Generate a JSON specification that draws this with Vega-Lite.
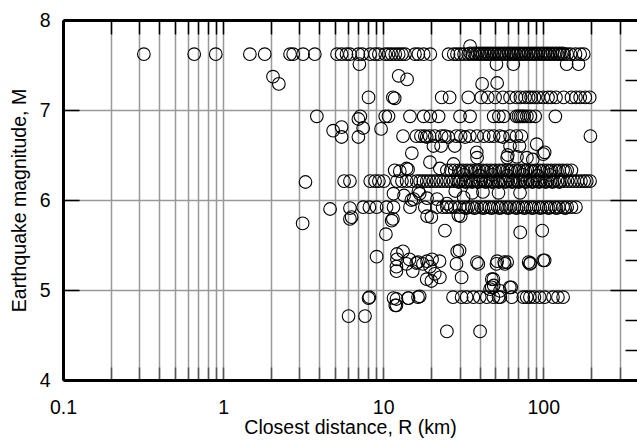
{
  "$schema": "https://vega.github.io/schema/vega-lite/v6.json",
  "width": 574,
  "height": 360,
  "autosize": "none",
  "padding": {"left": 63, "top": 20, "right": 0, "bottom": 60},
  "background": "white",
  "config": {
    "view": {"stroke": null},
    "axis": {"labelFont": "Liberation Sans", "titleFont": "Liberation Sans", "labelColor": "#000", "titleColor": "#000", "titleFontWeight": "normal", "labelFontSize": 19.5, "titleFontSize": 19.5, "labelOverlap": false, "labelFlush": false}
  },
  "layer": [
    {
      "data": {"values": [
        {"R":0.32,"M":7.62},{"R":0.66,"M":7.62},{"R":0.9,"M":7.62},{"R":1.47,"M":7.62},{"R":1.82,"M":7.62},{"R":2.62,"M":7.62},{"R":2.74,"M":7.62},{"R":3.16,"M":7.62},{"R":3.74,"M":7.62},{"R":5.15,"M":7.62},{"R":5.5,"M":7.62},{"R":5.9,"M":7.62},{"R":6.2,"M":7.62},{"R":7.0,"M":7.62},{"R":7.4,"M":7.62},{"R":8.3,"M":7.62},{"R":8.9,"M":7.62},{"R":9.4,"M":7.62},{"R":10.3,"M":7.62},{"R":10.8,"M":7.62},{"R":11.3,"M":7.62},{"R":11.9,"M":7.62},{"R":12.5,"M":7.62},{"R":13.1,"M":7.62},{"R":13.7,"M":7.62},{"R":15.8,"M":7.62},{"R":16.6,"M":7.62},{"R":17.9,"M":7.62},{"R":19.7,"M":7.62},{"R":25.6,"M":7.62},{"R":27.6,"M":7.62},{"R":28.9,"M":7.62},{"R":30.3,"M":7.62},{"R":32,"M":7.62},{"R":34,"M":7.62},{"R":36,"M":7.62},{"R":38,"M":7.62},{"R":40,"M":7.62},{"R":42,"M":7.62},{"R":44,"M":7.62},{"R":46,"M":7.62},{"R":48.5,"M":7.62},{"R":51,"M":7.62},{"R":53.5,"M":7.62},{"R":56,"M":7.62},{"R":59,"M":7.62},{"R":62,"M":7.62},{"R":65,"M":7.62},{"R":68,"M":7.62},{"R":71.5,"M":7.62},{"R":75,"M":7.62},{"R":79,"M":7.62},{"R":83,"M":7.62},{"R":87,"M":7.62},{"R":91,"M":7.62},{"R":96,"M":7.62},{"R":101,"M":7.62},{"R":106,"M":7.62},{"R":111,"M":7.62},{"R":117,"M":7.62},{"R":123,"M":7.62},{"R":129,"M":7.62},{"R":135,"M":7.62},{"R":141,"M":7.62},{"R":148,"M":7.62},{"R":159,"M":7.62},{"R":170,"M":7.62},{"R":179,"M":7.62},
        {"R":35,"M":7.63},{"R":37,"M":7.63},{"R":39,"M":7.63},{"R":41,"M":7.63},{"R":43,"M":7.63},{"R":45,"M":7.63},{"R":47.2,"M":7.63},{"R":49.7,"M":7.63},{"R":52.2,"M":7.63},{"R":54.7,"M":7.63},{"R":57.5,"M":7.63},{"R":60.5,"M":7.63},{"R":63.5,"M":7.63},{"R":66.5,"M":7.63},{"R":69.7,"M":7.63},{"R":73.2,"M":7.63},{"R":77,"M":7.63},{"R":81,"M":7.63},{"R":85,"M":7.63},{"R":89,"M":7.63},{"R":93.5,"M":7.63},{"R":98.5,"M":7.63},{"R":103.5,"M":7.63},{"R":108.5,"M":7.63},{"R":114,"M":7.63},{"R":120,"M":7.63},{"R":126,"M":7.63},{"R":132,"M":7.63},
        {"R":34.9,"M":7.71},
        {"R":7.1,"M":7.51},{"R":51,"M":7.51},{"R":65,"M":7.51},{"R":140,"M":7.51},{"R":166,"M":7.51},
        {"R":2.05,"M":7.37},{"R":2.23,"M":7.29},{"R":12.5,"M":7.38},{"R":14.1,"M":7.34},{"R":41.5,"M":7.29},{"R":51.5,"M":7.3},
        {"R":8.1,"M":7.14},{"R":11.5,"M":7.14},{"R":11.8,"M":7.13},{"R":23.2,"M":7.14},{"R":26,"M":7.14},{"R":34,"M":7.14},{"R":41,"M":7.14},{"R":45,"M":7.14},{"R":50,"M":7.14},{"R":56,"M":7.14},{"R":62,"M":7.14},{"R":68,"M":7.14},{"R":72,"M":7.14},{"R":77,"M":7.14},{"R":81,"M":7.14},{"R":84,"M":7.14},{"R":88,"M":7.14},{"R":93,"M":7.14},{"R":100,"M":7.14},{"R":107,"M":7.14},{"R":112,"M":7.14},{"R":120,"M":7.14},{"R":134,"M":7.14},{"R":150,"M":7.14},{"R":160,"M":7.14},{"R":170,"M":7.14},{"R":183,"M":7.14},{"R":195,"M":7.14},
        {"R":3.85,"M":6.93},{"R":7.2,"M":6.93},{"R":10.3,"M":6.93},{"R":10.8,"M":6.93},{"R":14.7,"M":6.93},{"R":17.9,"M":6.93},{"R":19.7,"M":6.93},{"R":22.2,"M":6.93},{"R":30.2,"M":6.93},{"R":34.9,"M":6.93},{"R":49,"M":6.93},{"R":52.8,"M":6.93},{"R":56.6,"M":6.93},{"R":68,"M":6.93},{"R":70,"M":6.93},{"R":72,"M":6.93},{"R":74,"M":6.93},{"R":76,"M":6.93},{"R":79,"M":6.93},{"R":83,"M":6.93},{"R":89,"M":6.93},{"R":119,"M":6.93},{"R":7.0,"M":6.9},
        {"R":4.87,"M":6.77},{"R":5.5,"M":6.81},{"R":7.5,"M":6.8},{"R":9.7,"M":6.79},
        {"R":5.5,"M":6.7},{"R":7.0,"M":6.7},{"R":13.3,"M":6.71},{"R":16.1,"M":6.71},{"R":17.2,"M":6.71},{"R":18.2,"M":6.71},{"R":18.7,"M":6.7},{"R":19.5,"M":6.71},{"R":21,"M":6.71},{"R":23.2,"M":6.71},{"R":24.3,"M":6.71},{"R":25.5,"M":6.7},{"R":28.6,"M":6.71},{"R":30.5,"M":6.71},{"R":32.5,"M":6.7},{"R":34.8,"M":6.71},{"R":38.6,"M":6.71},{"R":42.5,"M":6.71},{"R":46,"M":6.71},{"R":49,"M":6.71},{"R":53.6,"M":6.71},{"R":56,"M":6.7},{"R":62,"M":6.71},{"R":68,"M":6.71},{"R":73,"M":6.71},{"R":197,"M":6.71},
        {"R":20.6,"M":6.6},{"R":23,"M":6.6},{"R":28,"M":6.6},{"R":62,"M":6.6},{"R":71,"M":6.6},{"R":91,"M":6.62},
        {"R":15.1,"M":6.52},{"R":38.4,"M":6.53},{"R":60,"M":6.5},{"R":100,"M":6.51},{"R":102,"M":6.53},
        {"R":38.6,"M":6.47},{"R":59.5,"M":6.47},{"R":68.5,"M":6.48},{"R":79,"M":6.47},{"R":86,"M":6.45},
        {"R":19.6,"M":6.42},{"R":27.5,"M":6.4},
        {"R":11.8,"M":6.33},{"R":12.7,"M":6.32},{"R":14.0,"M":6.35},{"R":14.3,"M":6.34},{"R":22.6,"M":6.35},
        {"R":25,"M":6.33},{"R":26.5,"M":6.33},{"R":28,"M":6.33},{"R":29.7,"M":6.33},{"R":31.5,"M":6.33},{"R":33.4,"M":6.33},{"R":35.4,"M":6.33},{"R":37.5,"M":6.33},{"R":39.7,"M":6.33},{"R":42,"M":6.33},{"R":44.5,"M":6.33},{"R":47.2,"M":6.33},{"R":50,"M":6.33},{"R":53,"M":6.33},{"R":56,"M":6.33},{"R":59.5,"M":6.33},{"R":63,"M":6.33},{"R":66.8,"M":6.33},{"R":70.8,"M":6.33},{"R":75,"M":6.33},{"R":79.5,"M":6.33},{"R":84,"M":6.33},{"R":89,"M":6.33},{"R":94.5,"M":6.33},{"R":100,"M":6.33},{"R":106,"M":6.33},{"R":112,"M":6.33},{"R":119,"M":6.33},{"R":126,"M":6.33},{"R":133,"M":6.33},{"R":141,"M":6.33},{"R":150,"M":6.33},
        {"R":30.6,"M":6.32},{"R":34.4,"M":6.32},{"R":38.6,"M":6.32},{"R":43.2,"M":6.32},{"R":48.6,"M":6.32},{"R":54.5,"M":6.32},{"R":61.2,"M":6.32},{"R":68.8,"M":6.32},{"R":77.2,"M":6.32},{"R":86.5,"M":6.32},{"R":97,"M":6.32},{"R":109,"M":6.32},{"R":122,"M":6.32},{"R":137,"M":6.32},
        {"R":32,"M":6.28},{"R":40,"M":6.27},{"R":48,"M":6.28},{"R":60,"M":6.27},{"R":75,"M":6.28},{"R":92,"M":6.27},{"R":110,"M":6.28},
        {"R":3.27,"M":6.2},{"R":5.7,"M":6.21},{"R":6.2,"M":6.21},{"R":8.3,"M":6.21},{"R":8.9,"M":6.21},{"R":9.4,"M":6.21},{"R":10.1,"M":6.21},{"R":12.2,"M":6.21},{"R":13.1,"M":6.21},{"R":14.0,"M":6.21},{"R":15.0,"M":6.21},
        {"R":16.2,"M":6.21},{"R":17,"M":6.21},{"R":17.8,"M":6.21},{"R":18.7,"M":6.21},{"R":19.6,"M":6.21},{"R":20.6,"M":6.21},{"R":21.6,"M":6.21},{"R":22.7,"M":6.21},{"R":23.8,"M":6.21},{"R":25,"M":6.21},{"R":26.2,"M":6.21},{"R":27.5,"M":6.21},{"R":28.9,"M":6.21},{"R":30.3,"M":6.21},{"R":31.8,"M":6.21},{"R":33.4,"M":6.21},{"R":35,"M":6.21},{"R":36.8,"M":6.21},{"R":38.6,"M":6.21},{"R":40.5,"M":6.21},{"R":42.5,"M":6.21},{"R":44.6,"M":6.21},{"R":46.8,"M":6.21},{"R":49,"M":6.21},{"R":51.5,"M":6.21},{"R":54,"M":6.21},{"R":56.7,"M":6.21},{"R":59.5,"M":6.21},{"R":62.5,"M":6.21},{"R":65.6,"M":6.21},{"R":68.8,"M":6.21},{"R":72.2,"M":6.21},{"R":75.8,"M":6.21},{"R":79.6,"M":6.21},{"R":83.5,"M":6.21},{"R":87.7,"M":6.21},{"R":92,"M":6.21},{"R":96.6,"M":6.21},{"R":101,"M":6.21},{"R":106,"M":6.21},{"R":111,"M":6.21},{"R":117,"M":6.21},{"R":123,"M":6.21},{"R":129,"M":6.21},{"R":135,"M":6.21},{"R":142,"M":6.21},{"R":149,"M":6.21},{"R":156,"M":6.21},{"R":164,"M":6.21},{"R":172,"M":6.21},{"R":180,"M":6.21},{"R":187,"M":6.21},{"R":196,"M":6.21},
        {"R":29.6,"M":6.2},{"R":32.6,"M":6.2},{"R":35.9,"M":6.2},{"R":39.5,"M":6.2},{"R":43.5,"M":6.2},{"R":47.9,"M":6.2},{"R":52.7,"M":6.2},{"R":58,"M":6.2},{"R":64,"M":6.2},{"R":70.5,"M":6.2},{"R":77.7,"M":6.2},{"R":85.6,"M":6.2},{"R":94.3,"M":6.2},{"R":103.5,"M":6.2},{"R":114,"M":6.2},{"R":126,"M":6.2},
        {"R":11.6,"M":6.07},{"R":16.6,"M":6.1},{"R":16.9,"M":6.07},{"R":28.2,"M":6.1},{"R":36,"M":6.08},{"R":42,"M":6.09},{"R":52.5,"M":6.08},{"R":71.6,"M":6.08},{"R":13.5,"M":6.05},{"R":31.8,"M":6.03},
        {"R":15.5,"M":6.01},{"R":15,"M":6.0},{"R":21.7,"M":6.01},{"R":18.8,"M":6.02},{"R":25,"M":5.96},
        {"R":4.66,"M":5.9},{"R":6.2,"M":5.91},{"R":7.5,"M":5.92},{"R":8.2,"M":5.92},{"R":9.1,"M":5.92},{"R":10.5,"M":5.92},{"R":11.6,"M":5.92},{"R":14.7,"M":5.92},{"R":18.2,"M":5.92},{"R":21.7,"M":5.92},{"R":23.5,"M":5.92},{"R":25,"M":5.92},{"R":26.5,"M":5.92},
        {"R":28,"M":5.92},{"R":30,"M":5.92},{"R":32,"M":5.92},{"R":34,"M":5.92},{"R":36,"M":5.92},{"R":38.5,"M":5.92},{"R":41,"M":5.92},{"R":43.5,"M":5.92},{"R":46,"M":5.92},{"R":49,"M":5.92},{"R":52,"M":5.92},{"R":55,"M":5.92},{"R":58.5,"M":5.92},{"R":62,"M":5.92},{"R":66,"M":5.92},{"R":70,"M":5.92},{"R":74,"M":5.92},{"R":78.5,"M":5.92},{"R":83,"M":5.92},{"R":88,"M":5.92},{"R":93.5,"M":5.92},{"R":99,"M":5.92},{"R":105,"M":5.92},{"R":111,"M":5.92},{"R":118,"M":5.92},{"R":125,"M":5.92},{"R":133,"M":5.92},{"R":141,"M":5.92},{"R":150,"M":5.92},{"R":160,"M":5.92},
        {"R":33,"M":5.91},{"R":37.2,"M":5.91},{"R":42.2,"M":5.91},{"R":47.5,"M":5.91},{"R":53.5,"M":5.91},{"R":60.2,"M":5.91},{"R":68,"M":5.91},{"R":76.2,"M":5.91},{"R":85.5,"M":5.91},{"R":96,"M":5.91},{"R":108,"M":5.91},{"R":121,"M":5.91},{"R":137,"M":5.91},
        {"R":18.8,"M":5.82},{"R":20,"M":5.81},{"R":29.5,"M":5.83},{"R":30.5,"M":5.82},{"R":6.35,"M":5.81},{"R":11.5,"M":5.79},{"R":6.2,"M":5.79},{"R":11.3,"M":5.77},{"R":3.14,"M":5.74},
        {"R":24.3,"M":5.66},{"R":71.8,"M":5.64},{"R":98.5,"M":5.66},{"R":10.4,"M":5.62},
        {"R":30,"M":5.44},{"R":29,"M":5.43},{"R":13.3,"M":5.43},{"R":12.2,"M":5.4},
        {"R":9.1,"M":5.37},{"R":14.6,"M":5.34},{"R":12.2,"M":5.34},{"R":20.2,"M":5.34},
        {"R":16.5,"M":5.31},{"R":18.8,"M":5.32},{"R":22.5,"M":5.32},{"R":38.5,"M":5.31},{"R":51.5,"M":5.32},{"R":57,"M":5.31},{"R":59.5,"M":5.31},{"R":81,"M":5.31},{"R":83,"M":5.3},{"R":100,"M":5.33},{"R":102,"M":5.33},
        {"R":17.7,"M":5.29},{"R":28.7,"M":5.29},{"R":39.3,"M":5.29},{"R":51,"M":5.29},{"R":57.5,"M":5.29},{"R":82.5,"M":5.29},{"R":14.0,"M":5.29},
        {"R":12.1,"M":5.26},{"R":19.6,"M":5.26},{"R":12.1,"M":5.21},{"R":15.3,"M":5.21},{"R":16.1,"M":5.3},
        {"R":21,"M":5.18},{"R":22.6,"M":5.14},{"R":30.9,"M":5.14},{"R":18.7,"M":5.12},{"R":48.8,"M":5.12},{"R":47.7,"M":5.12},{"R":20,"M":5.1},
        {"R":47.6,"M":5.03},{"R":63,"M":5.03},{"R":61.8,"M":5.03},{"R":49,"M":5.05},{"R":53.6,"M":4.99},{"R":46.5,"M":5.01},
        {"R":8.1,"M":4.91},{"R":8.2,"M":4.92},{"R":11.6,"M":4.91},{"R":12.1,"M":4.9},{"R":14.3,"M":4.91},{"R":14.4,"M":4.91},{"R":16.5,"M":4.92},{"R":16.9,"M":4.93},{"R":27.3,"M":4.92},{"R":30.9,"M":4.92},{"R":33.2,"M":4.92},{"R":36.6,"M":4.92},{"R":40.1,"M":4.92},{"R":44.4,"M":4.92},{"R":48.8,"M":4.92},{"R":52.5,"M":4.92},{"R":53.9,"M":4.92},{"R":63.7,"M":4.92},{"R":75,"M":4.92},{"R":78.8,"M":4.92},{"R":82.5,"M":4.92},{"R":88,"M":4.92},{"R":95,"M":4.92},{"R":102,"M":4.92},{"R":115,"M":4.92},{"R":123.5,"M":4.92},{"R":133,"M":4.92},
        {"R":11.9,"M":4.83},{"R":12.1,"M":4.83},{"R":6.08,"M":4.71},{"R":7.7,"M":4.71},{"R":25,"M":4.54},{"R":40.3,"M":4.54}
      ]},
      "mark": {"type": "point", "shape": "circle", "filled": false, "stroke": "#000", "strokeWidth": 1.1, "size": 160, "opacity": 1},
      "encoding": {
        "x": {"field": "R", "type": "quantitative", "scale": {"type": "log", "domain": [0.1, 385], "nice": false},
          "axis": {"orient": "bottom", "values": [0.1,0.2,0.3,0.4,0.5,0.6,0.7,0.8,0.9,1,2,3,4,5,6,7,8,9,10,20,30,40,50,60,70,80,90,100,200,300],
            "labelExpr": "datum.value == 0.1 ? '0.1' : datum.value == 1 ? '1' : datum.value == 10 ? '10' : datum.value == 100 ? '100' : ''",
            "grid": true, "gridColor": "#999", "gridWidth": 1.5, "tickColor": "#555", "tickSize": -13, "tickWidth": 1.5,
            "domainColor": "#000", "domainWidth": 3, "labelPadding": 31, "title": "Closest distance, R (km)", "titlePadding": 2}},
        "y": {"field": "M", "type": "quantitative", "scale": {"domain": [4, 8], "nice": false, "zero": false},
          "axis": {"orient": "left", "values": [4,4.25,4.5,4.75,5,5.25,5.5,5.75,6,6.25,6.5,6.75,7,7.25,7.5,7.75,8],
            "format": "d",
            "labelExpr": "datum.value % 1 == 0 ? datum.label : ''",
            "grid": false, "tickColor": "#000", "tickSize": -16, "tickWidth": 1.5,
            "domainColor": "#000", "domainWidth": 3, "labelPadding": 29, "title": "Earthquake magnitude, M", "titlePadding": 10}}
      }
    },
    {
      "data": {"values": [{"R": 1, "M": 6}]},
      "mark": {"type": "point", "opacity": 0},
      "encoding": {
        "x": {"field": "R", "type": "quantitative",
          "axis": {"orient": "top", "values": [0.1,0.2,0.3,0.4,0.5,0.6,0.7,0.8,0.9,1,2,3,4,5,6,7,8,9,10,20,30,40,50,60,70,80,90,100,200,300],
            "labels": false, "grid": false, "tickColor": "#000", "tickSize": -14, "tickWidth": 1.5, "domainColor": "#000", "domainWidth": 3, "title": null}},
        "y": {"field": "M", "type": "quantitative",
          "axis": {"orient": "right", "values": [5, 6, 7], "labels": false, "domain": false, "grid": true, "gridColor": "#999", "gridWidth": 1.5,
            "tickColor": "#000", "tickSize": -27, "tickWidth": 1.5, "title": null}}
      }
    },
    {
      "data": {"values": [{"R": 1, "M": 6}]},
      "mark": {"type": "point", "opacity": 0},
      "encoding": {
        "x": {"field": "R", "type": "quantitative", "axis": null},
        "y": {"field": "M", "type": "quantitative",
          "axis": {"orient": "right", "values": [4.3333, 4.6667, 5.3333, 5.6667, 6.3333, 6.6667, 7.3333, 7.6667], "labels": false, "domain": false, "grid": false,
            "tickColor": "#000", "tickSize": -12, "tickWidth": 1.5, "title": null}}
      }
    }
  ],
  "resolve": {"axis": {"x": "independent", "y": "independent"}}
}
